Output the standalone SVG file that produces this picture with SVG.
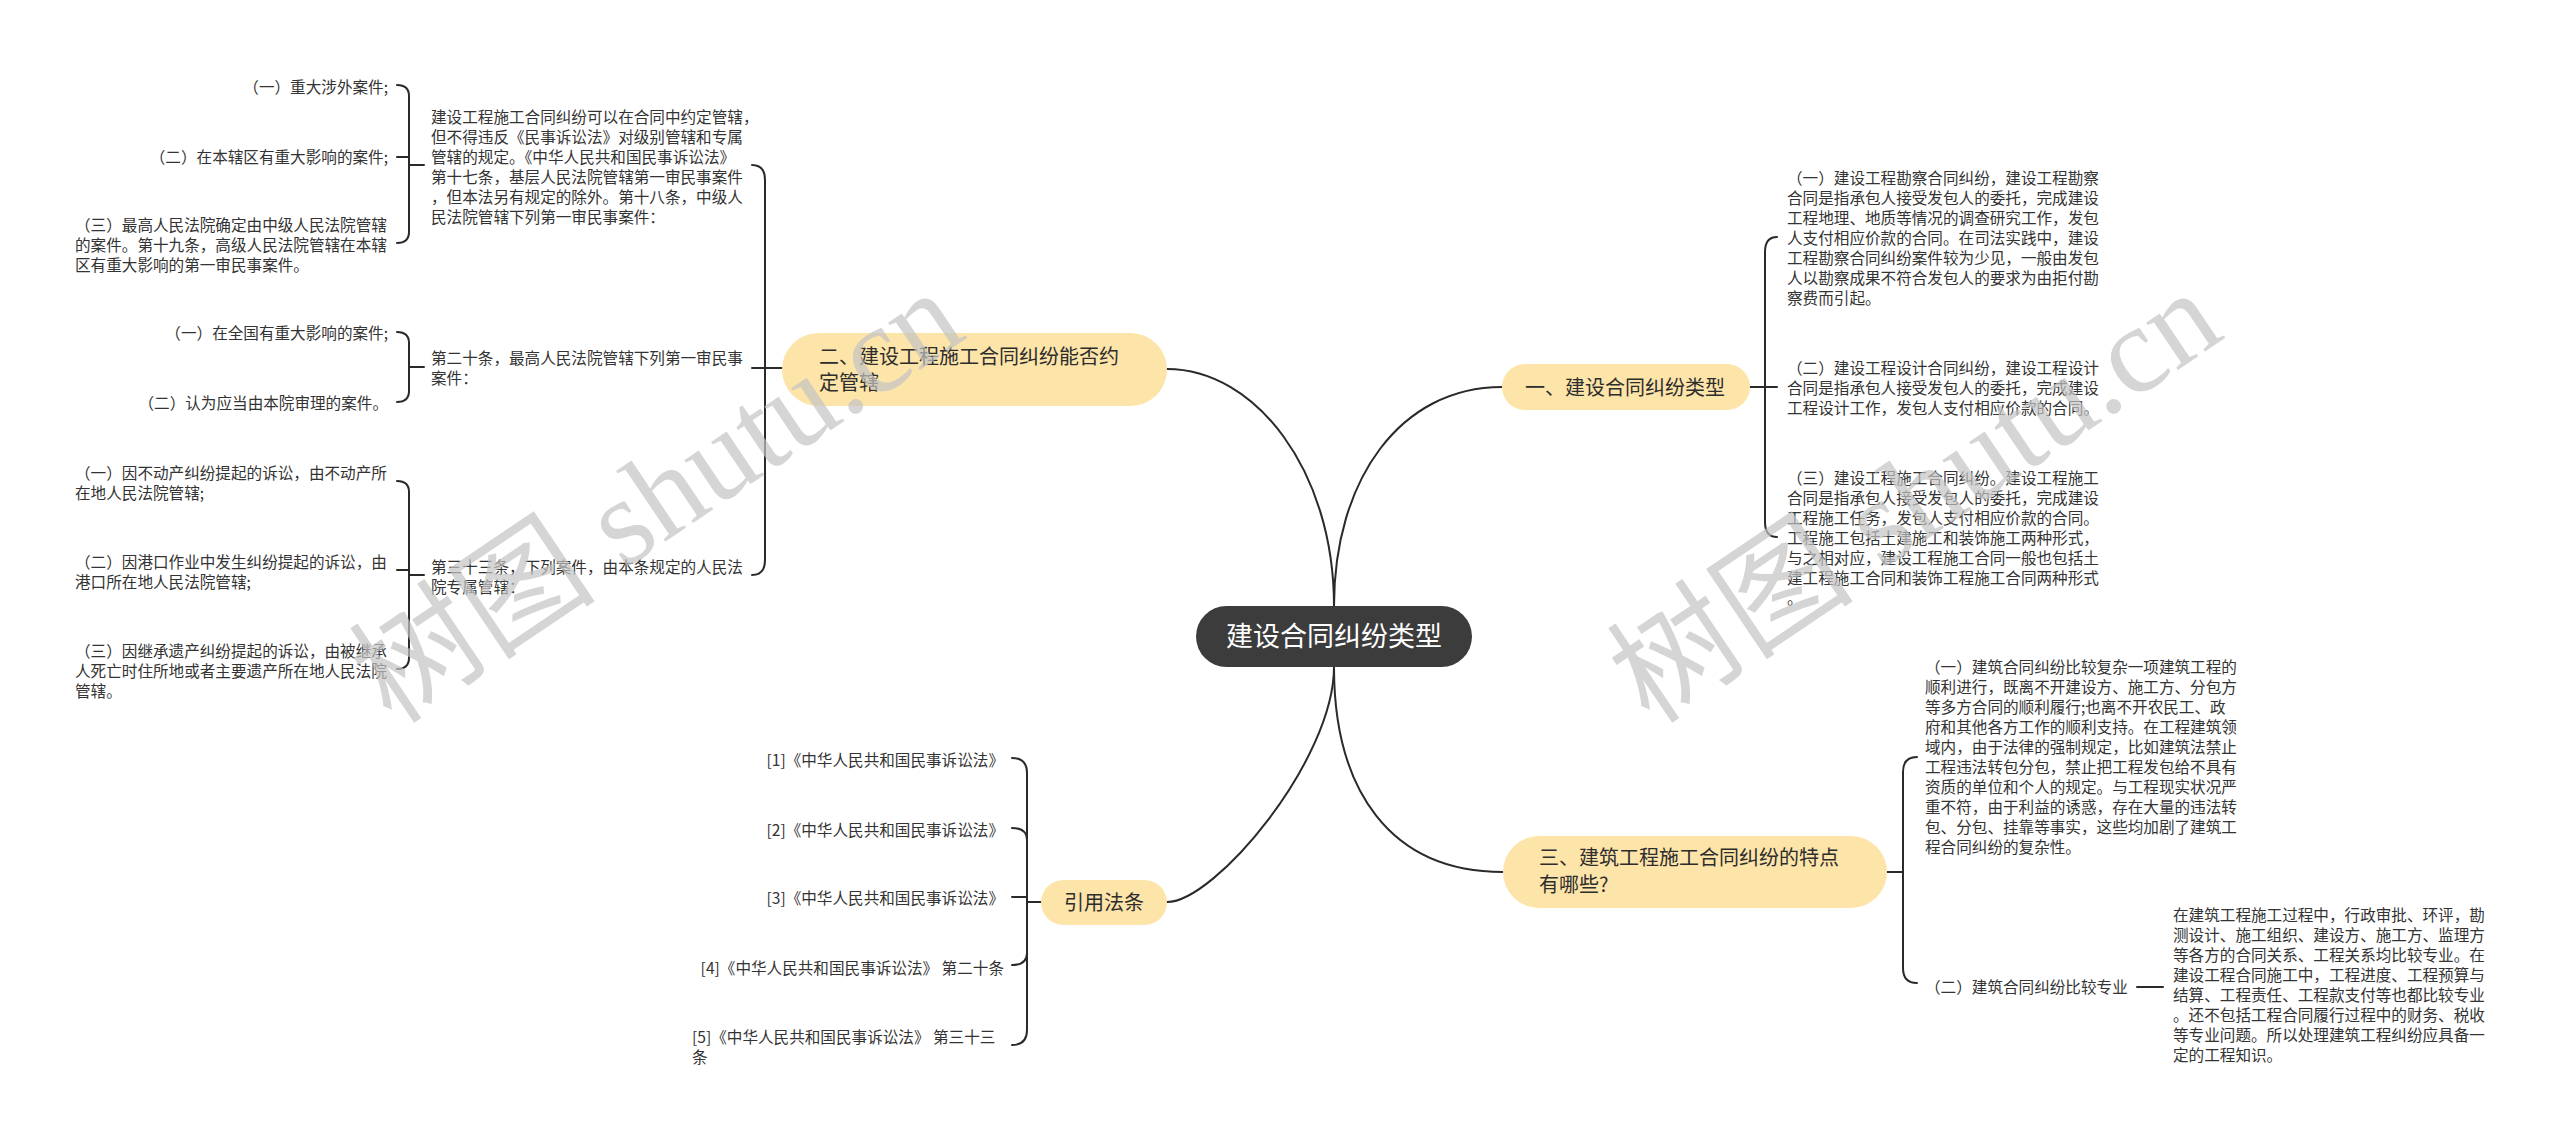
<svg xmlns="http://www.w3.org/2000/svg" width="2560" height="1141" viewBox="0 0 2560 1141">
<style>
text{font-family:"Noto Sans CJK SC","Liberation Sans",sans-serif;fill:#333333}
.t{font-size:15.6px}
.e{text-anchor:end}
.b{font-size:20px;fill:#2d2d2d}
.root{font-size:27px;fill:#ffffff;text-anchor:middle}
.node{fill:#fde4a9}
.rootbox{fill:#3c3c3c}
.ln{fill:none;stroke:#2a2a2a;stroke-width:2;stroke-linecap:round}
.wm{font-family:"Liberation Serif","Noto Sans CJK SC",serif;font-size:124px;fill:#c4c4c4;opacity:0.7}
</style>
<rect width="2560" height="1141" fill="#ffffff"/>

<g id="connectors">
  <path class="ln" d="M1334,606 C1334,470 1255,369 1167,369"/>
  <path class="ln" d="M1334,606 C1334,480 1400,387 1502,387"/>
  <path class="ln" d="M1334,667 C1334,760 1215,902 1167,902"/>
  <path class="ln" d="M1334,667 C1334,790 1390,872 1503,872"/>
  <path class="ln" d="M752,165 Q765,165 765,180 V560 Q765,575 752,575"/>
  <path class="ln" d="M752,368 H782"/>
  <path class="ln" d="M397,85 Q409,85 409,96 V232 Q409,243 397,243"/>
  <path class="ln" d="M397,157 H409"/>
  <path class="ln" d="M409,165 H424"/>
  <path class="ln" d="M397,332 Q409,332 409,343 V391 Q409,402 397,402"/>
  <path class="ln" d="M409,367 H424"/>
  <path class="ln" d="M397,481 Q409,481 409,492 V658 Q409,669 397,669"/>
  <path class="ln" d="M397,570 H409"/>
  <path class="ln" d="M409,575 H424"/>
  <path class="ln" d="M1777,237 Q1765,237 1765,252 V522 Q1765,537 1777,537"/>
  <path class="ln" d="M1750,387 H1777"/>
  <path class="ln" d="M1917,757 Q1903,757 1903,772 V968 Q1903,983 1917,983"/>
  <path class="ln" d="M1887,872 H1903"/>
  <path class="ln" d="M2137,987 H2163"/>
  <path class="ln" d="M1041,902 H1027 V773 Q1027,758 1012,758"/>
  <path class="ln" d="M1027,902 V840 Q1027,828 1012,828"/>
  <path class="ln" d="M1012,897 H1027"/>
  <path class="ln" d="M1027,902 V953 Q1027,965 1012,965"/>
  <path class="ln" d="M1027,902 V1030 Q1027,1045 1012,1045"/>
</g>

<g id="root">
  <rect class="rootbox" x="1196" y="606" width="276" height="61" rx="30.5"/>
  <text class="root" x="1334" y="646">建设合同纠纷类型</text>
</g>

<g id="node-er">
  <rect class="node" x="782" y="333" width="385" height="73" rx="36.5"/>
  <text class="b"><tspan x="819" y="364">二、建设工程施工合同纠纷能否约</tspan><tspan x="819" y="390">定管辖</tspan></text>
</g>

<g id="node-yi">
  <rect class="node" x="1502" y="364" width="248" height="46" rx="23"/>
  <text class="b" x="1525" y="394.5">一、建设合同纠纷类型</text>
</g>

<g id="node-san">
  <rect class="node" x="1503" y="836" width="384" height="72" rx="36"/>
  <text class="b"><tspan x="1539" y="865">三、建筑工程施工合同纠纷的特点</tspan><tspan x="1539" y="892">有哪些?</tspan></text>
</g>

<g id="node-yinyong">
  <rect class="node" x="1041" y="880" width="126" height="45" rx="22.5"/>
  <text class="b" x="1104" y="909.5" text-anchor="middle">引用法条</text>
</g>

<g id="er-a">
  <text class="t"><tspan x="431" y="123">建设工程施工合同纠纷可以在合同中约定管辖，</tspan><tspan x="431" y="143">但不得违反《民事诉讼法》对级别管辖和专属</tspan><tspan x="431" y="163">管辖的规定。《中华人民共和国民事诉讼法》</tspan><tspan x="431" y="183">第十七条，基层人民法院管辖第一审民事案件</tspan><tspan x="431" y="203">，但本法另有规定的除外。第十八条，中级人</tspan><tspan x="431" y="223">民法院管辖下列第一审民事案件：</tspan></text>
</g>
<g id="er-a-1"><text class="t e" x="388" y="93">（一）重大涉外案件;</text></g>
<g id="er-a-2"><text class="t e" x="388" y="163">（二）在本辖区有重大影响的案件;</text></g>
<g id="er-a-3">
  <text class="t"><tspan x="75" y="231">（三）最高人民法院确定由中级人民法院管辖</tspan><tspan x="75" y="251">的案件。第十九条，高级人民法院管辖在本辖</tspan><tspan x="75" y="271">区有重大影响的第一审民事案件。</tspan></text>
</g>

<g id="er-b">
  <text class="t"><tspan x="431" y="364">第二十条，最高人民法院管辖下列第一审民事</tspan><tspan x="431" y="384">案件：</tspan></text>
</g>
<g id="er-b-1"><text class="t e" x="388" y="339">（一）在全国有重大影响的案件;</text></g>
<g id="er-b-2"><text class="t e" x="388" y="409">（二）认为应当由本院审理的案件。</text></g>

<g id="er-c">
  <text class="t"><tspan x="431" y="573">第三十三条，下列案件，由本条规定的人民法</tspan><tspan x="431" y="593">院专属管辖：</tspan></text>
</g>
<g id="er-c-1">
  <text class="t"><tspan x="75" y="479">（一）因不动产纠纷提起的诉讼，由不动产所</tspan><tspan x="75" y="499">在地人民法院管辖;</tspan></text>
</g>
<g id="er-c-2">
  <text class="t"><tspan x="75" y="568">（二）因港口作业中发生纠纷提起的诉讼，由</tspan><tspan x="75" y="588">港口所在地人民法院管辖;</tspan></text>
</g>
<g id="er-c-3">
  <text class="t"><tspan x="75" y="657">（三）因继承遗产纠纷提起的诉讼，由被继承</tspan><tspan x="75" y="677">人死亡时住所地或者主要遗产所在地人民法院</tspan><tspan x="75" y="697">管辖。</tspan></text>
</g>

<g id="yi-1">
  <text class="t"><tspan x="1787" y="184">（一）建设工程勘察合同纠纷，建设工程勘察</tspan><tspan x="1787" y="204">合同是指承包人接受发包人的委托，完成建设</tspan><tspan x="1787" y="224">工程地理、地质等情况的调查研究工作，发包</tspan><tspan x="1787" y="244">人支付相应价款的合同。在司法实践中，建设</tspan><tspan x="1787" y="264">工程勘察合同纠纷案件较为少见，一般由发包</tspan><tspan x="1787" y="284">人以勘察成果不符合发包人的要求为由拒付勘</tspan><tspan x="1787" y="304">察费而引起。</tspan></text>
</g>
<g id="yi-2">
  <text class="t"><tspan x="1787" y="374">（二）建设工程设计合同纠纷，建设工程设计</tspan><tspan x="1787" y="394">合同是指承包人接受发包人的委托，完成建设</tspan><tspan x="1787" y="414">工程设计工作，发包人支付相应价款的合同。</tspan></text>
</g>
<g id="yi-3">
  <text class="t"><tspan x="1787" y="484">（三）建设工程施工合同纠纷。建设工程施工</tspan><tspan x="1787" y="504">合同是指承包人接受发包人的委托，完成建设</tspan><tspan x="1787" y="524">工程施工任务，发包人支付相应价款的合同。</tspan><tspan x="1787" y="544">工程施工包括土建施工和装饰施工两种形式，</tspan><tspan x="1787" y="564">与之相对应，建设工程施工合同一般也包括土</tspan><tspan x="1787" y="584">建工程施工合同和装饰工程施工合同两种形式</tspan><tspan x="1787" y="604">。</tspan></text>
</g>

<g id="san-1">
  <text class="t"><tspan x="1925" y="673">（一）建筑合同纠纷比较复杂一项建筑工程的</tspan><tspan x="1925" y="693">顺利进行，既离不开建设方、施工方、分包方</tspan><tspan x="1925" y="713">等多方合同的顺利履行;也离不开农民工、政</tspan><tspan x="1925" y="733">府和其他各方工作的顺利支持。在工程建筑领</tspan><tspan x="1925" y="753">域内，由于法律的强制规定，比如建筑法禁止</tspan><tspan x="1925" y="773">工程违法转包分包，禁止把工程发包给不具有</tspan><tspan x="1925" y="793">资质的单位和个人的规定。与工程现实状况严</tspan><tspan x="1925" y="813">重不符，由于利益的诱惑，存在大量的违法转</tspan><tspan x="1925" y="833">包、分包、挂靠等事实，这些均加剧了建筑工</tspan><tspan x="1925" y="853">程合同纠纷的复杂性。</tspan></text>
</g>
<g id="san-2"><text class="t" x="1925" y="993">（二）建筑合同纠纷比较专业</text></g>
<g id="san-2-1">
  <text class="t"><tspan x="2173" y="921">在建筑工程施工过程中，行政审批、环评，勘</tspan><tspan x="2173" y="941">测设计、施工组织、建设方、施工方、监理方</tspan><tspan x="2173" y="961">等各方的合同关系、工程关系均比较专业。在</tspan><tspan x="2173" y="981">建设工程合同施工中，工程进度、工程预算与</tspan><tspan x="2173" y="1001">结算、工程责任、工程款支付等也都比较专业</tspan><tspan x="2173" y="1021">。还不包括工程合同履行过程中的财务、税收</tspan><tspan x="2173" y="1041">等专业问题。所以处理建筑工程纠纷应具备一</tspan><tspan x="2173" y="1061">定的工程知识。</tspan></text>
</g>

<g id="ref-1"><text class="t e" x="1004" y="766">[1]《中华人民共和国民事诉讼法》</text></g>
<g id="ref-2"><text class="t e" x="1004" y="836">[2]《中华人民共和国民事诉讼法》</text></g>
<g id="ref-3"><text class="t e" x="1004" y="904">[3]《中华人民共和国民事诉讼法》</text></g>
<g id="ref-4"><text class="t e" x="1004" y="974">[4]《中华人民共和国民事诉讼法》 第二十条</text></g>
<g id="ref-5">
  <text class="t"><tspan x="692" y="1043">[5]《中华人民共和国民事诉讼法》 第三十三</tspan><tspan x="692" y="1063">条</tspan></text>
</g>

<g id="watermarks">
  <text class="wm" x="392" y="726" transform="rotate(-34 392 726)">树图 shutu.cn</text>
  <text class="wm" x="1650" y="726" transform="rotate(-34 1650 726)">树图 shutu.cn</text>
</g>
</svg>
